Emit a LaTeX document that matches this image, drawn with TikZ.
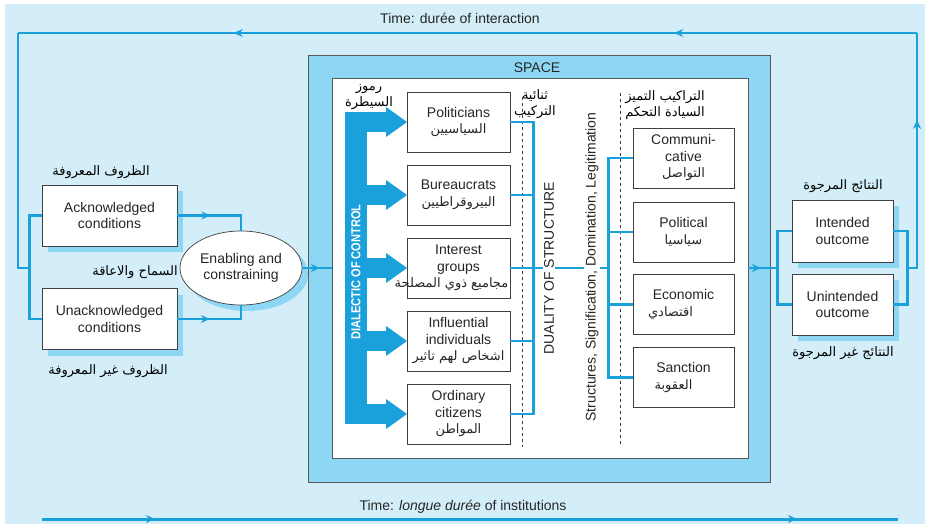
\documentclass[tikz,border=0pt]{standalone}
\usepackage{fontspec}
\setmainfont{Liberation Sans}
\newfontfamily\arabicfont[Script=Arabic]{DejaVu Sans}
\TeXXeTstate=1
\usetikzlibrary{positioning,shapes.geometric,arrows.meta,shadows,decorations.markings}
\definecolor{paleblue}{HTML}{D4EEF9}
\definecolor{spaceblue}{HTML}{8DD6F4}
\definecolor{flowblue}{HTML}{1AA0DB}
\newcommand{\artxt}[1]{{\arabicfont\fontsize{13}{15}\selectfont\beginR #1\endR}}

\begin{document}
\begin{tikzpicture}[x=1pt, y=-1pt, font=\fontsize{14}{16.5}\selectfont,
	box_node/.style={draw=black!75, fill=white, line width=0.7pt, minimum width=103pt, minimum height=60pt, align=center, inner sep=1pt, text=black!85},
	cond_node/.style={box_node, minimum width=135pt, minimum height=61pt, drop shadow={shadow xshift=6pt, shadow yshift=-6pt, fill=spaceblue, opacity=1}},
	enab_node/.style={ellipse, draw=black!75, fill=white, line width=0.7pt, minimum width=122pt, minimum height=74pt, inner sep=0pt, align=center, text=black!85, drop shadow={shadow xshift=6pt, shadow yshift=-6pt, fill=spaceblue, opacity=1}},
	side_text/.style={rotate=90, fill=white, inner sep=1pt, text=black!85},
	flow/.style={draw=flowblue, line width=2.5pt},
	arrow_at/.style={postaction={decorate, decoration={markings, mark=at position #1 with {\arrow{Stealth[length=9pt, width=8pt]}}}}}]

	\useasboundingbox (0,0) rectangle (925,524);
	\fill[paleblue] (5,4) rectangle (925,524);

	\node[draw=black!65, fill=spaceblue, line width=0.8pt, minimum width=462pt, minimum height=427pt] (space) at (539,268.5) {};
	\node[text=black!85] (space_lbl) at (537,68) {SPACE};
	\node[draw=black!65, fill=white, line width=0.8pt, minimum width=416pt, minimum height=380pt] (inner) at (540,268) {};

	\draw[dashed, black!75, line width=0.6pt] (522,97) -- (522,447);
	\draw[dashed, black!75, line width=0.6pt] (620,93) -- (620,447);

	\fill[flowblue] (345,112) rectangle (367,424);
	\foreach \y in {122,195,268,341,414} {
		\fill[flowblue] (366,\y-10) rectangle (387,\y+10);
		\fill[flowblue] (386,\y-15) -- (407,\y) -- (386,\y+15) -- cycle;
	}
	\node[rotate=90, xscale=0.85, text=white, font=\bfseries\fontsize{13}{13}\selectfont] (dialectic) at (356,272) {DIALECTIC OF CONTROL};
	\node[align=center, inner sep=0pt] (ctrl_ar) at (369,97) {\artxt{رموز}\\\artxt{السيطرة}};

	\node[cond_node] (ack) at (109.5,215.5) {Acknowledged\\conditions};
	\node[cond_node] (unack) at (109.5,319) {Unacknowledged\\conditions};
	\node[enab_node] (enab) at (241,268) {Enabling and\\constraining};
	\node (ack_ar) at (101,172) {\artxt{الظروف المعروفة}};
	\node (unack_ar) at (108,371) {\artxt{الظروف غير المعروفة}};
	\node (enab_ar) at (135,272) {\artxt{السماح والاعاقة}};

	\node[box_node] (pol) at (458.5,122) {Politicians\\\artxt{السياسيين}};
	\node[box_node] (bur) at (458.5,195) {Bureaucrats\\\artxt{البيروقراطيين}};
	\node[box_node] (grp) at (458.5,268) {Interest\\groups\\\makebox[0pt]{\artxt{مجاميع ذوي المصلحة}\hspace*{14pt}}};
	\node[box_node] (inf) at (458.5,341) {Influential\\individuals\\\makebox[0pt]{\artxt{اشخاص لهم تاثير}}};
	\node[box_node] (cit) at (458.5,414) {Ordinary\\citizens\\\artxt{المواطن}};
	\node[align=center, inner sep=0pt] (dual_ar) at (535,104) {\artxt{ثنائية}\\\artxt{التركيب}};

	\node[box_node, minimum width=101pt] (com) at (683.5,158) {Communi-\\cative\\\artxt{التواصل}};
	\node[box_node, minimum width=101pt] (pls) at (683.5,232) {Political\\\artxt{سياسيا}};
	\node[box_node, minimum width=101pt] (eco) at (683.5,304.5) {Economic\\\artxt{اقتصادي}\hspace*{26pt}};
	\node[box_node, minimum width=101pt] (san) at (683.5,377.5) {Sanction\\\artxt{العقوبة}\hspace*{20pt}};
	\node[align=center, inner sep=0pt] (struct_ar) at (665,105) {\artxt{التراكيب التميز}\\\artxt{السيادة التحكم}};

	\node[cond_node, minimum width=101pt, minimum height=62pt] (intd) at (842.5,231) {Intended\\outcome};
	\node[cond_node, minimum width=101pt] (unintd) at (842.5,304.5) {Unintended\\outcome};
	\node (intd_ar) at (843,186) {\artxt{النتائج المرجوة}};
	\node (unintd_ar) at (843,353) {\artxt{النتائج غير المرجوة}};

	\node[text=black!85] (t_inter) at (460,18) {Time: durée of interaction};
	\node[text=black!85] (t_inst) at (463,507) {Time: \textit{longue durée} of institutions};

	\draw[flow] (pol.east) -- ++(23,0) coordinate (lbus) |- (cit.east);
	\draw[flow] (bur.east) -- (bur.east -| lbus);
	\draw[flow] (inf.east) -- (inf.east -| lbus);
	\draw[flow] (com.west) -- ++(-24,0) coordinate (rbus) |- (san.west);
	\draw[flow] (pls.west) -- (pls.west -| rbus);
	\draw[flow] (eco.west) -- (eco.west -| rbus);
	\draw[flow] (grp.east) -- (grp.east -| rbus);
	\node[side_text] (duality) at (549,268) {DUALITY OF STRUCTURE};
	\node[side_text] (sdl) at (592,267) {Structures, Signification, Domination, Legitimation};

	\draw[flow] (ack.west) -- ++(-12,0) coordinate (lbr) |- (unack.west);
	\draw[flow, arrow_at=0.42] (ack.east) -| (enab.north);
	\draw[flow, arrow_at=0.42] (unack.east) -| (enab.south);
	\draw[flow, arrow_at=0.6] (enab.east) -- (enab.east -| inner.west);

	\draw[flow] (intd.west) -- ++(-14,0) coordinate (obr) |- (unintd.west);
	\draw[flow] (intd.east) -- ++(14,0) coordinate (rbr) |- (unintd.east);
	\draw[flow, arrow_at=0.43] (inner.east) -- (inner.east -| obr);

	\coordinate (loop_r) at (917,33);
	\coordinate (loop_l) at (18,33);
	\draw[flow, line width=2.2pt, arrow_at=0.645] (rbr |- inner.east) -- (loop_r |- inner.east) -- (loop_r);
	\draw[flow, line width=2.2pt, arrow_at=0.27, arrow_at=0.76] (loop_r) -- (loop_l);
	\draw[flow, line width=2.2pt] (loop_l) -- (loop_l |- enab) -- (lbr |- enab);

	\coordinate (inst_a) at (42,519);
	\coordinate (inst_b) at (898,519);
	\draw[flow, line width=3pt, arrow_at=0.132, arrow_at=0.882] (inst_a) -- (inst_b);
\end{tikzpicture}
\end{document}
